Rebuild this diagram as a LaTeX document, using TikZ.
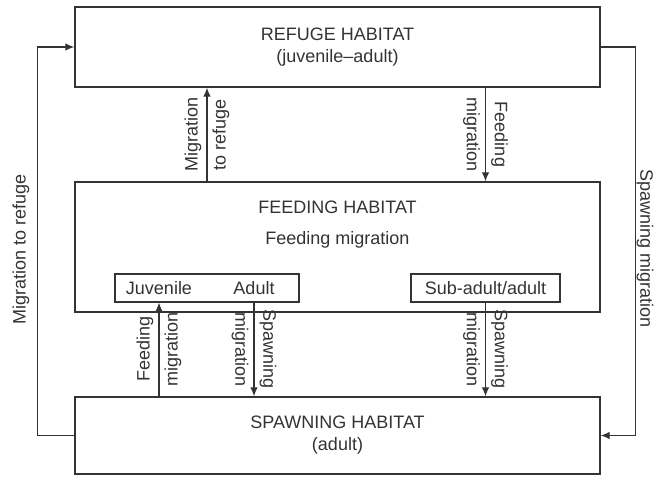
\documentclass[tikz,border=0pt]{standalone}
\usepackage{fontspec}
\setmainfont{Liberation Sans}
\usetikzlibrary{arrows.meta}

\definecolor{ink}{HTML}{333333}

\tikzset{
  habitat/.style={draw=ink, line width=1.4pt, minimum width=525pt, inner sep=0pt, align=center},
  stage/.style={draw=ink, line width=1.2pt, minimum height=28pt, inner sep=0pt},
  flow/.style={draw=ink, line width=1.1pt, -{Latex[length=9pt,width=7.5pt]}},
  lbl/.style={inner sep=1pt},
}

\begin{document}
\begin{tikzpicture}[x=1pt,y=-1pt,font=\fontsize{18}{22}\selectfont,text=ink]

\useasboundingbox (0,0) rectangle (655,476);

\node [habitat, minimum height=80pt]  (refuge) at (337.5,47)    {REFUGE HABITAT\\(juvenile--adult)};
\node [habitat, minimum height=130pt] (feed)   at (337.5,247)   {};
\node [habitat, minimum height=77pt]  (spawn)  at (337.5,435.5) {SPAWNING HABITAT\\(adult)};

\node (feedtitle) at (337.5,207) {FEEDING HABITAT};
\node (feedsub)   at (337.5,240) {Feeding migration};

\node [stage, minimum width=184pt] (juvad) at (207,288)   {};
\node (juv)   at (159,288) {Juvenile};
\node (adult) at (254,288) {Adult};
\node [stage, minimum width=149pt] (subad) at (485.5,288) {Sub-adult/adult};

% outer loops
\draw[flow] (spawn.west) -- ++(-37,0) |- (refuge.west);
\draw[flow] (refuge.east) -- ++(35,0) |- (spawn.east);

\node [lbl, rotate=90]  (lblrefuge) at (21,249)  {Migration to refuge};
\node [lbl, rotate=-90] (lblspawn)  at (645,249) {Spawning migration};

% between the habitats
\draw[flow] (juvad |- feed.north) -- (juvad |- refuge.south)
    node [lbl, midway, sloped, above=4pt] {Migration}
    node [lbl, midway, sloped, below=4pt] {to refuge};

\draw[flow] (subad |- refuge.south) -- (subad |- feed.north)
    node [lbl, midway, sloped, above=4pt] {Feeding}
    node [lbl, midway, sloped, below=4pt] {migration};

\draw[flow] (juv |- spawn.north) -- (juv |- juvad.south)
    node [lbl, midway, sloped, above=4pt] {Feeding}
    node [lbl, midway, sloped, below=4pt] {migration};

\foreach \s in {adult,subad}
    \draw[flow] (\s |- juvad.south) -- (\s |- spawn.north)
        node [lbl, midway, sloped, above=4pt] {Spawning}
        node [lbl, midway, sloped, below=4pt] {migration};

\end{tikzpicture}
\end{document}
